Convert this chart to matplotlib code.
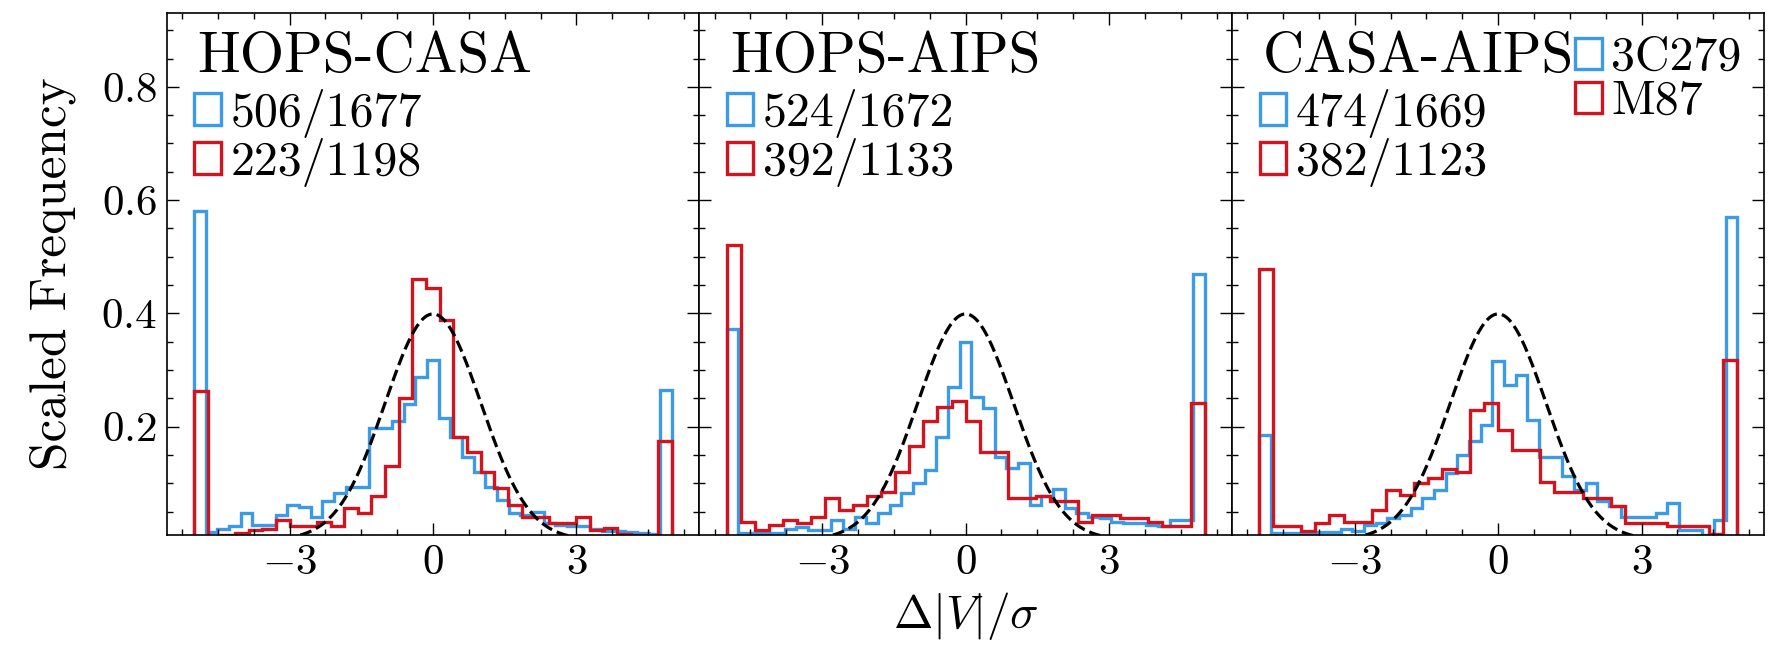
import numpy as np
import matplotlib
matplotlib.use("Agg")
import matplotlib.pyplot as plt
from matplotlib.patches import Patch
from matplotlib.ticker import AutoMinorLocator

# ---------------- data ----------------
panel_titles = ["HOPS-CASA", "HOPS-AIPS", "CASA-AIPS"]
source_names = ["3C279", "M87"]
count_labels_3c279 = ["506/1677", "524/1672", "474/1669"]
count_labels_m87 = ["223/1198", "392/1133", "382/1123"]
hist_range = (-5.0, 5.0)
nbins_3c279 = [41, 41, 41]
nbins_m87 = [35, 34, 34]

hops_casa_3c279 = [0.58, 0.013, 0.019, 0.025, 0.047, 0.027, 0.027, 0.044, 0.062, 0.058,
                   0.041, 0.068, 0.082, 0.094, 0.094, 0.197, 0.197, 0.21, 0.24, 0.288,
                   0.318, 0.215, 0.182, 0.147, 0.12, 0.094, 0.07, 0.047, 0.044, 0.05,
                   0.03, 0.027, 0.024, 0.024, 0.019, 0.016, 0.015, 0.013, 0.012, 0.01, 0.265]
hops_casa_m87 = [0.262, 0.005, 0.008, 0.012, 0.018, 0.02, 0.035, 0.025, 0.025, 0.032,
                 0.024, 0.056, 0.047, 0.077, 0.13, 0.25, 0.46, 0.444, 0.388, 0.182,
                 0.156, 0.12, 0.091, 0.062, 0.041, 0.041, 0.03, 0.03, 0.041, 0.018,
                 0.021, 0.01, 0.008, 0.005, 0.174]
hops_aips_3c279 = [0.373, 0.012, 0.012, 0.012, 0.012, 0.02, 0.023, 0.018, 0.018, 0.035,
                   0.02, 0.041, 0.03, 0.047, 0.062, 0.082, 0.1, 0.124, 0.182, 0.27,
                   0.35, 0.253, 0.232, 0.147, 0.126, 0.135, 0.062, 0.077, 0.09, 0.056,
                   0.047, 0.041, 0.038, 0.032, 0.03, 0.03, 0.027, 0.024, 0.035, 0.035, 0.47]
hops_aips_m87 = [0.52, 0.032, 0.018, 0.027, 0.035, 0.029, 0.041, 0.074, 0.053, 0.062,
                 0.077, 0.085, 0.12, 0.165, 0.21, 0.235, 0.245, 0.209, 0.156, 0.156,
                 0.074, 0.074, 0.077, 0.068, 0.068, 0.032, 0.044, 0.044, 0.038, 0.038,
                 0.032, 0.024, 0.024, 0.241]
casa_aips_3c279 = [0.185, 0.012, 0.012, 0.012, 0.012, 0.013, 0.013, 0.02, 0.015, 0.027,
                   0.03, 0.038, 0.044, 0.056, 0.074, 0.088, 0.118, 0.15, 0.174, 0.203,
                   0.315, 0.274, 0.291, 0.212, 0.147, 0.147, 0.112, 0.088, 0.1, 0.068,
                   0.059, 0.041, 0.041, 0.041, 0.047, 0.065, 0.018, 0.018, 0.009, 0.035, 0.57]
casa_aips_m87 = [0.479, 0.025, 0.025, 0.015, 0.03, 0.044, 0.032, 0.032, 0.053, 0.088,
                 0.08, 0.1, 0.11, 0.125, 0.12, 0.23, 0.241, 0.194, 0.159, 0.159,
                 0.103, 0.085, 0.085, 0.074, 0.074, 0.059, 0.03, 0.03, 0.03, 0.024,
                 0.024, 0.024, 0.01, 0.318]

values_3c279 = [hops_casa_3c279, hops_aips_3c279, casa_aips_3c279]
values_m87 = [hops_casa_m87, hops_aips_m87, casa_aips_m87]
xtick_values = [-3, 0, 3]
ytick_values = [0.2, 0.4, 0.6, 0.8]

# ---------------- style ----------------
BLUE = "#3C9AE6"
RED = "#D2141E"
plt.rcParams.update({
    "font.family": "serif",
    "font.serif": ["cmr10", "DejaVu Serif"],
    "mathtext.fontset": "cm",
    "axes.formatter.use_mathtext": True,
    "axes.unicode_minus": True,
    "axes.linewidth": 1.2,
})

fig = plt.figure(figsize=(17.73, 6.61), dpi=100)
axes = fig.subplots(1, 3, sharey=True)
fig.subplots_adjust(left=0.094, right=0.9952, bottom=0.191, top=0.98, wspace=0)

gx = np.linspace(-5.6, 5.6, 600)
gy = np.exp(-0.5 * gx ** 2) / np.sqrt(2 * np.pi)

leg_kw = dict(loc="upper left", borderaxespad=0, borderpad=0, frameon=False,
              fontsize=34.5, handlelength=0.55, handleheight=0.62,
              handletextpad=0.2, labelspacing=0.0)

for i, ax in enumerate(axes):
    eb = np.linspace(hist_range[0], hist_range[1], nbins_3c279[i] + 1)
    er = np.linspace(hist_range[0], hist_range[1], nbins_m87[i] + 1)
    ax.stairs(values_3c279[i], eb, color=BLUE, lw=2.4)
    ax.stairs(values_m87[i], er, color=RED, lw=2.4)
    ax.plot(gx, gy, color="black", ls="--", lw=2.3)

    ax.set_xlim(-5.57, 5.57)
    ax.set_ylim(0.009, 0.93)
    ax.set_xticks(xtick_values)
    ax.xaxis.set_minor_locator(AutoMinorLocator(4))
    ax.set_yticks(ytick_values)
    ax.yaxis.set_minor_locator(AutoMinorLocator(4))
    ax.tick_params(which="both", direction="in", top=True, right=True,
                   labelsize=31, width=1.0)
    ax.tick_params(which="major", length=8.5, pad=7)
    ax.tick_params(which="minor", length=4.5)

    ax.text(0.058, 0.888, panel_titles[i], transform=ax.transAxes,
            fontsize=41, ha="left", va="baseline")

    handles = [Patch(facecolor="none", edgecolor=BLUE, lw=2.4, label=count_labels_3c279[i]),
               Patch(facecolor="none", edgecolor=RED, lw=2.4, label=count_labels_m87[i])]
    leg = ax.legend(handles=handles, bbox_to_anchor=(0.052, 0.855), **leg_kw)
    if i == 2:
        ax.add_artist(leg)
        h2 = [Patch(facecolor="none", edgecolor=BLUE, lw=2.4, label=source_names[0]),
              Patch(facecolor="none", edgecolor=RED, lw=2.4, label=source_names[1])]
        ax.legend(handles=h2, bbox_to_anchor=(0.645, 0.957), **leg_kw)

axes[0].set_ylabel("Scaled Frequency", fontsize=37, labelpad=18)
axes[1].set_xlabel(r"$\Delta|V|/\sigma$", fontsize=34, labelpad=6)

fig.savefig("out.png", dpi=100)
